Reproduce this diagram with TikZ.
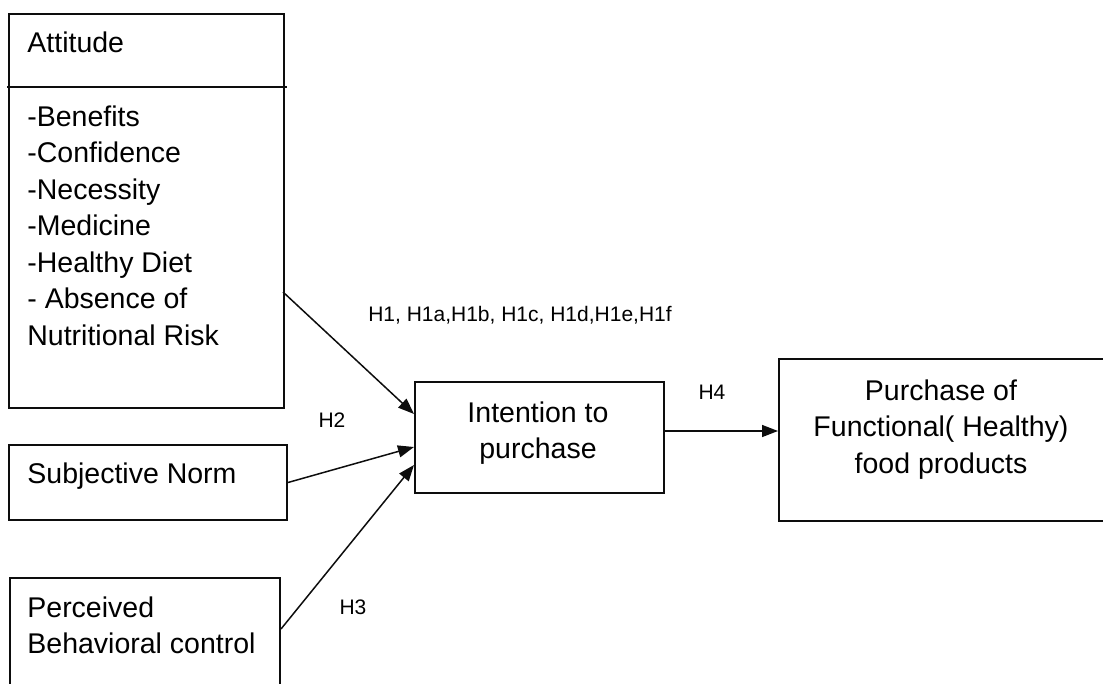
\documentclass[tikz,border=0pt]{standalone}
\usepackage{fontspec}
\setmainfont{Liberation Sans}
\usetikzlibrary{arrows.meta, positioning, calc}
\definecolor{mainBlack}{gray}{0.05}
\tikzset{
    boxNode/.style={draw=mainBlack, line width=1pt, rectangle, inner sep=0pt, anchor=north west},
    boxText/.style={font=\fontsize{14.25}{18.25}\selectfont, inner sep=0pt},
    hypText/.style={font=\fontsize{10.5}{12.5}\selectfont, inner sep=0pt},
    linkArrow/.style={-{Triangle[length=8pt, width=6pt]}, line width=0.75pt, mainBlack},
}

\begin{document}
\begin{tikzpicture}[x=0.5pt, y=-0.5pt]
    \useasboundingbox (0,0) rectangle (1103,684);

    % Attitude box with divider
    \node[boxNode, minimum width=137.5pt, minimum height=197pt] (att) at (8,13) {};
    \draw[mainBlack, line width=1pt] ($(att.north west)+(-1,74)$) -- ($(att.north east)+(2,74)$);
    \node[boxText, anchor=base west] (attTitle) at (27,53) {Attitude};
    \node[boxText, anchor=north west, align=left] (attList) at (27,105) {-Benefits\\-Confidence\\-Necessity\\-Medicine\\-Healthy Diet\\- Absence of\\Nutritional Risk};

    % Subjective norm and perceived control
    \node[boxNode, minimum width=139pt, minimum height=37.5pt] (subj) at (8,444) {};
    \node[boxText, anchor=base west] (subjText) at (27,483) {Subjective Norm};
    \node[boxNode, minimum width=135pt, minimum height=61.5pt] (perc) at (9,577) {};
    \node[boxText, anchor=north west, align=left] (percText) at (27,596) {Perceived\\Behavioral control};

    % Intention and purchase
    \node[boxNode, minimum width=124.5pt, minimum height=55.5pt] (intBox) at (414,381) {};
    \node[boxText, anchor=north, align=center] (intText) at (538,401) {Intention to\\purchase};
    \node[boxNode, minimum width=170pt, minimum height=81pt] (pur) at (778,358) {};
    \node[boxText, anchor=north, align=center] (purText) at (941,379) {Purchase of\\Functional( Healthy)\\food products};

    % Paths
    \draw[linkArrow] ($(att.north east)+(-2,279)$) -- ($(intBox.north west)+(0,33)$);
    \draw[linkArrow] (subj.east) -- ($(intBox.north west)+(0,66)$);
    \draw[linkArrow] ($(perc.north east)+(0,52)$) -- ($(intBox.north west)+(0,84)$);
    \draw[linkArrow] ($(intBox.north east)+(0,50)$) -- ($(pur.north west)+(0,73)$);

    % Hypotheses
    \node[hypText] (h1) at (520,315) {H1, H1a,H1b, H1c, H1d,H1e,H1f};
    \node[hypText] (h2) at (332,420) {H2};
    \node[hypText] (h3) at (353,607) {H3};
    \node[hypText] (h4) at (712,392) {H4};
\end{tikzpicture}
\end{document}
